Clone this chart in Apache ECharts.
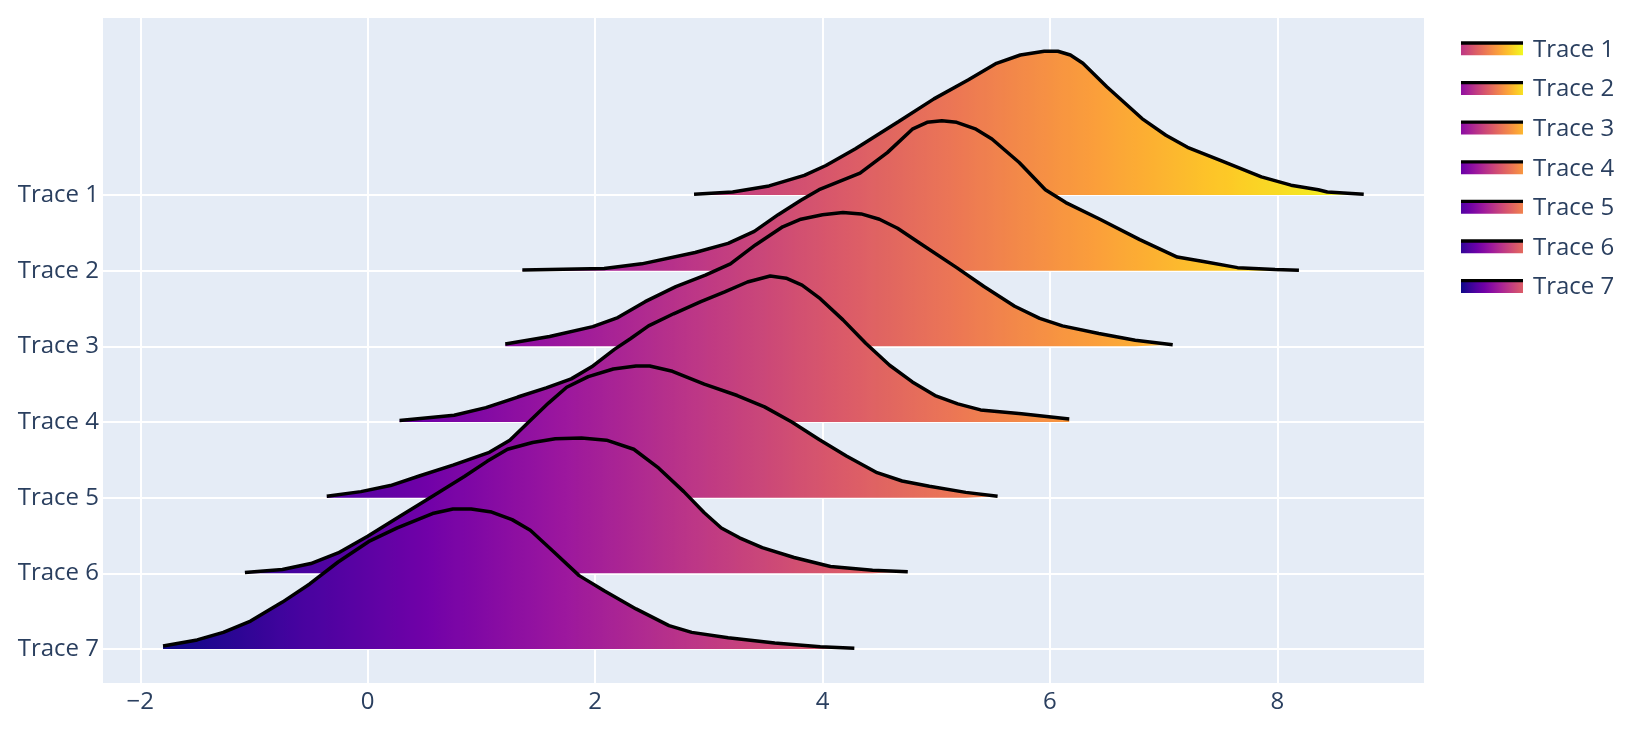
<!DOCTYPE html>
<html>
<head>
<meta charset="utf-8">
<script src="https://cdn.jsdelivr.net/npm/echarts@6/dist/echarts.min.js"></script>
<style>
html,body{margin:0;padding:0;background:#ffffff;}
#chart{width:1645px;height:741px;}
</style>
</head>
<body>
<div id="chart"></div>
<script>
// ---- data ----
const categories = ['Trace 1', 'Trace 2', 'Trace 3', 'Trace 4', 'Trace 5', 'Trace 6', 'Trace 7'];
const xTickValues = [-2, 0, 2, 4, 6, 8];

const trace1X = [2.87, 3.21, 3.53, 3.84, 4.03, 4.29, 4.67, 4.98, 5.28, 5.53, 5.74, 5.95, 6.07, 6.18, 6.29, 6.50, 6.81, 7.02, 7.21, 7.51, 7.86, 8.12, 8.36, 8.44, 8.76];
const trace1H = [0.01, 0.04, 0.12, 0.26, 0.39, 0.61, 0.97, 1.27, 1.52, 1.74, 1.85, 1.90, 1.90, 1.85, 1.74, 1.43, 1.01, 0.79, 0.63, 0.45, 0.24, 0.13, 0.07, 0.04, 0.01];

const trace2X = [1.36, 2.08, 2.41, 2.88, 3.17, 3.40, 3.61, 3.81, 3.97, 4.33, 4.57, 4.79, 4.92, 5.05, 5.18, 5.35, 5.49, 5.73, 5.96, 6.14, 6.44, 6.79, 7.12, 7.35, 7.65, 7.98, 8.19];
const trace2H = [0.01, 0.03, 0.09, 0.24, 0.36, 0.52, 0.74, 0.93, 1.07, 1.29, 1.56, 1.87, 1.96, 1.98, 1.96, 1.87, 1.74, 1.43, 1.07, 0.90, 0.68, 0.41, 0.18, 0.12, 0.04, 0.015, 0.005];

const trace3X = [1.21, 1.60, 1.98, 2.20, 2.44, 2.71, 2.97, 3.19, 3.41, 3.65, 3.81, 4.00, 4.18, 4.34, 4.50, 4.66, 4.86, 5.18, 5.42, 5.69, 5.91, 6.11, 6.43, 6.75, 7.08];
const trace3H = [0.03, 0.13, 0.26, 0.38, 0.59, 0.79, 0.94, 1.09, 1.34, 1.58, 1.68, 1.74, 1.77, 1.75, 1.68, 1.56, 1.36, 1.04, 0.79, 0.53, 0.37, 0.27, 0.17, 0.08, 0.02];

const trace4X = [0.28, 0.76, 1.04, 1.32, 1.57, 1.79, 1.97, 2.17, 2.31, 2.47, 2.69, 2.93, 3.14, 3.34, 3.54, 3.68, 3.82, 3.98, 4.18, 4.38, 4.59, 4.79, 4.99, 5.19, 5.39, 5.75, 6.17];
const trace4H = [0.02, 0.09, 0.19, 0.33, 0.45, 0.57, 0.73, 0.96, 1.10, 1.27, 1.43, 1.59, 1.72, 1.85, 1.93, 1.90, 1.81, 1.63, 1.35, 1.04, 0.75, 0.53, 0.35, 0.24, 0.16, 0.11, 0.04];

const trace5X = [-0.36, -0.06, 0.20, 0.46, 0.75, 1.07, 1.25, 1.43, 1.59, 1.75, 1.94, 2.16, 2.36, 2.48, 2.68, 2.96, 3.25, 3.49, 3.73, 3.97, 4.21, 4.48, 4.70, 4.94, 5.26, 5.54];
const trace5H = [0.02, 0.08, 0.16, 0.29, 0.43, 0.60, 0.76, 1.02, 1.25, 1.46, 1.60, 1.70, 1.74, 1.74, 1.67, 1.50, 1.35, 1.20, 1.00, 0.77, 0.55, 0.33, 0.22, 0.15, 0.07, 0.02];

const trace6X = [-1.08, -0.75, -0.50, -0.26, 0.00, 0.28, 0.57, 0.85, 1.05, 1.23, 1.45, 1.65, 1.88, 2.10, 2.34, 2.56, 2.78, 2.96, 3.11, 3.27, 3.47, 3.75, 4.07, 4.44, 4.75];
const trace6H = [0.01, 0.05, 0.13, 0.27, 0.49, 0.75, 1.02, 1.28, 1.48, 1.64, 1.73, 1.78, 1.79, 1.76, 1.64, 1.39, 1.08, 0.80, 0.60, 0.47, 0.34, 0.21, 0.09, 0.04, 0.02];

const trace7X = [-1.80, -1.50, -1.27, -1.03, -0.75, -0.51, -0.26, 0.02, 0.26, 0.57, 0.75, 0.91, 1.09, 1.27, 1.43, 1.64, 1.86, 2.08, 2.36, 2.65, 2.85, 3.17, 3.58, 3.98, 4.28];
const trace7H = [0.04, 0.12, 0.22, 0.37, 0.62, 0.86, 1.15, 1.43, 1.60, 1.79, 1.85, 1.85, 1.81, 1.71, 1.57, 1.28, 0.97, 0.77, 0.53, 0.31, 0.22, 0.15, 0.08, 0.03, 0.01];

const plasma = ['#0d0887', '#46039f', '#7201a8', '#9c179e', '#bd3786', '#d8576b', '#ed7953', '#fb9f3a', '#fdca26', '#f0f921'];

// ---- build ----
const traceX = [trace1X, trace2X, trace3X, trace4X, trace5X, trace6X, trace7X];
const traceH = [trace1H, trace2H, trace3H, trace4H, trace5H, trace6H, trace7H];
const allX = [].concat(...traceX);
const gMin = Math.min(...allX);
const gMax = Math.max(...allX);

function hexToRgb(h) { return [parseInt(h.substr(1,2),16), parseInt(h.substr(3,2),16), parseInt(h.substr(5,2),16)]; }
function plasmaAt(t) {
  t = Math.max(0, Math.min(1, t));
  const p = t * (plasma.length - 1);
  const i = Math.min(plasma.length - 2, Math.floor(p));
  const f = p - i;
  const a = hexToRgb(plasma[i]), b = hexToRgb(plasma[i + 1]);
  const c = a.map((v, k) => Math.round(v + (b[k] - v) * f));
  return 'rgb(' + c.join(',') + ')';
}

const n = categories.length;
const series = categories.map((name, i) => {
  const offset = n - 1 - i;
  return {
    type: 'line',
    name: name,
    data: traceX[i].map((x, j) => [x, offset + traceH[i][j]]),
    symbol: 'none',
    showSymbol: false,
    smooth: false,
    lineStyle: { color: '#000000', width: 3.5 },
    areaStyle: { origin: offset, opacity: 1 },
    emphasis: { disabled: true },
    silent: true,
    animation: false
  };
});

const legendData = categories.map((name, i) => {
  const xs = traceX[i];
  const lo = Math.min(...xs), hi = Math.max(...xs);
  const stops = [];
  for (let k = 0; k <= 8; k++) {
    const x = lo + (hi - lo) * k / 8;
    stops.push({ offset: k / 8, color: plasmaAt((x - gMin) / (gMax - gMin)) });
  }
  return {
    name: name,
    itemStyle: {
      color: new echarts.graphic.LinearGradient(0, 0, 1, 0, stops),
      borderWidth: 0,
      borderColor: 'transparent',
      shadowColor: '#000000',
      shadowOffsetY: -3.3,
      shadowOffsetX: 0,
      shadowBlur: 0
    }
  };
});

const yTickValues = categories.map((c, i) => i);
const fontFamily = '"Open Sans", "Noto Sans", sans-serif';
const textColor = '#2a3f5f';

const chart = echarts.init(document.getElementById('chart'), null, { renderer: 'canvas' });
chart.setOption({
  animation: false,
  backgroundColor: '#ffffff',
  grid: {
    left: 103, right: 221, top: 18, bottom: 58,
    show: true, backgroundColor: '#E5ECF6', borderWidth: 0, containLabel: false
  },
  xAxis: {
    type: 'value',
    min: -2.328, max: 9.29,
    axisLine: { show: false },
    axisTick: { show: false, customValues: xTickValues },
    axisLabel: {
      customValues: xTickValues,
      color: textColor, fontSize: 24, fontFamily: fontFamily, margin: 7,
      formatter: v => (v < 0 ? '\u2212' + Math.abs(v) : String(v))
    },
    splitLine: { show: true, lineStyle: { color: '#ffffff', width: 2 } }
  },
  yAxis: {
    type: 'value',
    min: -0.449, max: 8.339,
    axisLine: { show: false },
    axisTick: { show: false, customValues: yTickValues },
    axisLabel: {
      customValues: yTickValues,
      color: textColor, fontSize: 24, fontFamily: fontFamily, margin: 4,
      formatter: v => categories[n - 1 - Math.round(v)]
    },
    splitLine: { show: true, lineStyle: { color: '#ffffff', width: 2 } }
  },
  visualMap: {
    type: 'continuous',
    show: false,
    dimension: 0,
    min: gMin,
    max: gMax,
    inRange: { color: plasma }
  },
  legend: {
    orient: 'vertical',
    left: 1461,
    top: 38,
    padding: 0,
    itemWidth: 62,
    itemHeight: 10.7,
    itemGap: 15.6,
    icon: 'rect',
    textStyle: { color: textColor, fontSize: 24, fontFamily: fontFamily, padding: [0, 0, 0, 5] },
    data: legendData
  },
  series: series
});
</script>
</body>
</html>
